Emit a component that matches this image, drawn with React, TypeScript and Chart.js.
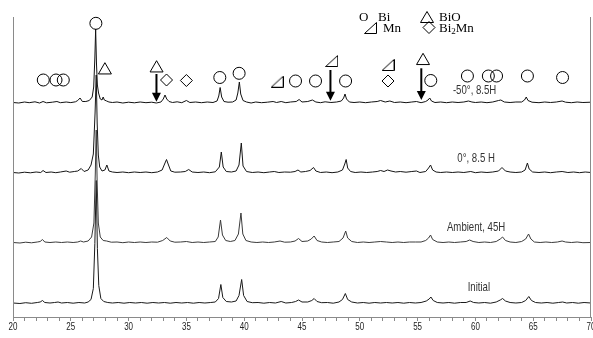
import React, { useEffect, useRef } from "react";
import { Chart, registerables } from "chart.js";

Chart.register(...registerables);

// ---------- data (2θ in degrees, intensity above each trace's own baseline) ----------
const traceNames = ["-50°, 8.5H", "0°, 8.5 H", "Ambient, 45H", "Initial"];
const traceOffsets = [214, 144, 74, 13.5];
const traceColors = ["#111111", "#151515", "#3a3a3a", "#1a1a1a"];

const traceMinus50: number[][] = [
  [20,0.5],[20.5,0],[21,1],[21.4,0.3],[21.9,1.2],[22.3,0],[22.6,1.5],[22.9,0.2],[23.4,0.8],[23.8,1.5],[24.1,0.3],[24.6,1],[25,0.4],[25.4,1.2],[25.6,2.5],[25.8,5],[26.0,1.5],[26.3,1.5],[26.6,2.5],[26.85,6],[26.98,16],[27.08,45],[27.15,74],[27.22,40],[27.3,18],[27.4,10],[27.55,4],[27.7,3],[27.8,6],[27.9,3],[28.1,2],[28.3,1],[28.6,0.5],[29,1],[29.5,0],[30,0.8],[30.5,0.2],[31,1],[31.5,0.3],[32,0.8],[32.4,0],[32.8,1],[33.0,4],[33.15,8],[33.3,4],[33.5,1.5],[33.8,0.5],[34.2,1.2],[34.6,0.3],[35.0,2.5],[35.3,0.5],[35.8,1],[36.3,0.3],[36.8,1],[37.3,0.5],[37.65,2],[37.8,7],[37.92,15.5],[38.05,6],[38.25,1.5],[38.6,0.8],[39.0,1],[39.3,3],[39.45,10],[39.58,21],[39.7,9],[39.9,2.5],[40.2,1],[40.6,0],[41,1],[41.5,0.3],[42,0.8],[42.5,1.5],[42.8,0.5],[43.2,1.5],[43.6,0.3],[44,1],[44.5,1.5],[44.75,3.5],[45,1],[45.5,1.5],[45.9,3],[46.2,1],[46.6,0.3],[47,1.2],[47.5,0.5],[48,1],[48.4,2],[48.6,5],[48.72,9],[48.85,4],[49.1,1],[49.5,0.5],[50,1],[50.5,0.3],[51,1],[51.5,1.5],[51.8,2.5],[52.2,1],[52.6,2],[53,0.5],[53.5,1],[54,0.3],[54.5,1],[54.9,1.5],[55.3,0.3],[55.7,1.5],[55.9,3],[56.05,5],[56.2,2],[56.5,0.5],[57,1],[57.5,0.3],[58,1],[58.5,0.5],[59,1],[59.4,2],[59.7,1],[60,0.5],[60.5,1],[61,0.3],[61.5,1],[62,2.5],[62.2,3],[62.5,1],[63,0.5],[63.5,1],[64,1],[64.25,3],[64.4,6],[64.55,2.5],[64.9,0.8],[65.5,0.3],[66,1],[66.5,0.5],[67,1],[67.5,2],[67.8,0.8],[68.3,0.3],[68.8,1],[69.3,0.5],[70,0.8]
];

const trace0: number[][] = [
  [20,0.5],[20.5,0],[21,0.8],[21.5,0.2],[22,1],[22.4,0.5],[22.6,2.5],[22.85,0.5],[23.3,1],[23.7,0.3],[24.1,1],[24.6,2],[24.9,0.8],[25.3,1.5],[25.6,2],[25.9,4.5],[26.15,1.5],[26.5,3],[26.75,8],[26.95,19],[27.1,60],[27.2,98],[27.28,50],[27.38,18],[27.5,6],[27.7,2],[27.95,3],[28.12,8],[28.3,2],[28.6,1],[29,0.5],[29.5,1],[30,0.3],[30.5,1],[31,0.5],[31.5,1],[32,0.3],[32.5,1],[32.9,3],[33.15,10],[33.28,13.5],[33.42,9],[33.65,2],[34,0.8],[34.5,1],[34.9,1.5],[35.2,3.5],[35.5,1],[36,0.5],[36.5,1],[37,0.3],[37.5,1.2],[37.85,6],[38.02,21],[38.18,6],[38.45,1.5],[38.9,1],[39.3,2],[39.55,8],[39.75,30],[39.9,7],[40.2,1.5],[40.7,0.5],[41.2,1],[41.7,0.3],[42.2,1],[42.6,1.5],[43,0.5],[43.5,1],[44,0.8],[44.4,1.5],[44.65,3],[44.9,1],[45.3,1.5],[45.7,2.5],[46.0,5.5],[46.2,2],[46.6,0.5],[47.1,1],[47.6,0.3],[48.1,1],[48.5,3],[48.7,9],[48.82,13.5],[48.95,5],[49.2,1.5],[49.6,0.5],[50.1,1],[50.6,0.5],[51.1,1],[51.5,1.5],[51.8,2.5],[52.1,1.5],[52.4,3],[52.7,2],[53.1,1],[53.5,1.5],[54,0.8],[54.5,1.5],[54.9,2],[55.2,0.5],[55.7,1.5],[55.95,5],[56.12,8],[56.3,3],[56.6,1],[57,0.5],[57.5,1],[58,0.5],[58.5,1],[59,0.5],[59.6,1.5],[60,0.3],[60.5,1],[61,0.5],[61.5,1],[62,2],[62.3,5.5],[62.6,2],[63,1],[63.5,0.5],[64,1],[64.3,3],[64.5,10],[64.65,4],[64.95,1],[65.5,0.5],[66,1],[66.5,0.3],[67,1],[67.5,1.5],[68,0.5],[68.5,1],[69,0.3],[69.5,1],[70,0.5]
];

const traceAmbient: number[][] = [
  [20,0.5],[20.6,0],[21.1,0.8],[21.6,0.2],[22.1,1],[22.35,1.5],[22.55,3.5],[22.75,1],[23.2,0.5],[23.7,1],[24.2,0.5],[24.7,1],[25.2,0.5],[25.6,1],[25.85,2],[26.1,1],[26.5,2],[26.8,6],[27.0,20],[27.12,70],[27.2,113],[27.28,60],[27.38,20],[27.55,6],[27.8,2.5],[28.1,2],[28.5,0.8],[29,1],[29.5,0.3],[30,1],[30.5,0.5],[31,1],[31.5,0.5],[32,1],[32.5,0.8],[32.95,2.5],[33.3,5.5],[33.6,2],[34,0.8],[34.5,1],[35,1.5],[35.5,0.5],[36,1],[36.5,0.5],[37,1],[37.5,1.5],[37.75,6],[37.95,23],[38.12,8],[38.4,2.5],[38.8,1.5],[39.2,2.5],[39.5,9],[39.72,30],[39.88,9],[40.15,2.5],[40.6,1],[41.1,0.5],[41.6,1],[42.1,0.5],[42.6,1],[43.1,2],[43.5,0.8],[44,1],[44.4,2],[44.7,4.5],[45,1.5],[45.5,2],[45.8,4],[46.05,7],[46.3,2.5],[46.7,1],[47.2,0.5],[47.7,1],[48.2,1.5],[48.55,5],[48.78,12],[48.95,5],[49.3,1.5],[49.8,0.5],[50.3,1],[50.8,0.5],[51.3,1],[51.8,1.5],[52.3,1],[52.8,0.5],[53.3,1],[53.8,0.5],[54.3,1],[54.8,1],[55.3,1],[55.7,2.5],[55.95,5],[56.12,8],[56.3,3.5],[56.7,1],[57.2,0.5],[57.7,1],[58.2,0.5],[58.7,1],[59.2,1.5],[59.5,3],[59.8,1.5],[60.3,0.5],[60.8,1],[61.3,0.5],[61.8,1.5],[62.15,4],[62.35,6],[62.6,2.5],[63,1],[63.5,0.5],[64,1.5],[64.35,4],[64.6,9],[64.8,4],[65.1,1],[65.6,0.5],[66.1,1],[66.6,0.5],[67.1,1],[67.5,2],[67.8,1],[68.3,0.5],[68.8,1],[69.3,0.3],[70,0.5]
];

const traceInitial: number[][] = [
  [20,0.5],[20.6,0],[21.1,0.8],[21.6,0.2],[22.1,1],[22.35,1.5],[22.55,3],[22.75,1],[23.2,0.5],[23.6,1],[23.9,1.5],[24.2,0.5],[24.7,1],[25.2,0.3],[25.7,1],[26.2,0.5],[26.5,1.5],[26.75,4],[26.95,15],[27.08,60],[27.2,123],[27.3,55],[27.42,18],[27.6,5],[27.85,2],[28.2,1],[28.6,0.5],[29.1,1],[29.6,0.3],[30.1,1],[30.6,0.5],[31.1,1],[31.6,0.3],[32.1,1],[32.6,0.5],[33.1,1],[33.6,0.3],[34.1,1],[34.6,0.5],[35.1,1],[35.6,0.3],[36.1,1],[36.6,0.5],[37.1,1],[37.5,1.5],[37.78,5],[37.98,19],[38.15,6],[38.45,2],[38.9,1.5],[39.3,2.5],[39.55,8],[39.78,24],[39.95,8],[40.25,2],[40.7,0.8],[41.2,1],[41.7,0.3],[42.2,1],[42.7,0.5],[43.2,2],[43.6,0.5],[44.1,1],[44.45,2],[44.7,3.5],[45,1.5],[45.5,1.5],[45.85,3],[46.05,5],[46.3,2],[46.7,0.8],[47.2,1],[47.7,0.3],[48.2,1.5],[48.5,4],[48.75,10],[48.95,4],[49.3,1.5],[49.8,0.5],[50.3,1],[50.8,0.3],[51.3,1],[51.8,0.5],[52.3,1],[52.8,0.5],[53.3,1],[53.8,0.3],[54.3,1],[54.8,0.5],[55.3,1],[55.75,2.5],[56.0,4.5],[56.15,6.5],[56.35,3],[56.7,1],[57.2,0.5],[57.7,1],[58.2,0.3],[58.7,1],[59.2,1],[59.55,2.5],[59.85,1],[60.3,0.5],[60.8,1],[61.3,0.3],[61.8,1.5],[62.15,3.5],[62.35,5],[62.6,2.5],[63,1],[63.5,0.5],[64,1],[64.35,3],[64.62,7],[64.85,3],[65.2,1],[65.7,0.5],[66.2,1],[66.7,0.3],[67.2,1],[67.55,1.5],[67.9,0.5],[68.4,1],[68.9,0.3],[69.4,1],[70,0.5]
];

const traces = [traceMinus50, trace0, traceAmbient, traceInitial];

// phase markers (x = 2θ, y = chart value)
const biCircles: number[][] = [
  [22.62,237],[23.72,237],[24.35,237],[27.17,293.7],[37.89,239.5],[39.56,243.7],[44.44,236],[46.17,236],[48.77,236],[56.14,236.5],[59.31,241],[61.12,241],[61.83,241],[64.5,241],[67.54,239.5]
];
const bioTriangles: number[][] = [[27.95,246.8],[32.42,248.8],[55.47,256.2]];
const mnTriangles: number[][] = [[42.85,235.3],[47.57,256],[52.44,252]];
const bi2mnDiamonds: number[][] = [[33.28,237],[35.0,236.5],[52.44,236]];

// arrows: [x, top value, tip value]
const arrows: number[][] = [[32.41,243,215.3],[47.46,247,216.3],[55.32,248.7,217]];

// trace labels: [x, y]
const traceLabelPos: number[][] = [[59.93,227],[60.06,159],[60.06,90],[60.3,30]];

const xTickMin = 20;
const xTickMax = 70;
const xLabelStep = 5;

const SANS = '"Liberation Sans", Arial, sans-serif';
const SERIF = '"Liberation Serif", "Times New Roman", serif';

function makeRightTriangle(): HTMLCanvasElement {
  const c = document.createElement("canvas");
  c.width = 13;
  c.height = 12;
  const g = c.getContext("2d")!;
  g.strokeStyle = "#000";
  g.lineWidth = 1;
  g.beginPath();
  g.moveTo(0.5, 11.5);
  g.lineTo(12.5, 11.5);
  g.lineTo(12.5, 0.5);
  g.closePath();
  g.stroke();
  return c;
}

function narrowText(ctx: CanvasRenderingContext2D, text: string, x: number, y: number, sx: number) {
  ctx.save();
  ctx.translate(x, y);
  ctx.scale(sx, 1);
  ctx.fillText(text, 0, 0);
  ctx.restore();
}

const overlayPlugin = {
  id: "overlay",
  afterDatasetsDraw(chart: any) {
    const { ctx, chartArea, scales } = chart;
    const xs = scales.x;
    const ys = scales.y;
    ctx.save();
    // frame: left & right vertical lines
    ctx.strokeStyle = "#8a8a8a";
    ctx.lineWidth = 1;
    ctx.beginPath();
    ctx.moveTo(Math.round(chartArea.left) + 0.5, chartArea.top);
    ctx.lineTo(Math.round(chartArea.left) + 0.5, chartArea.bottom);
    ctx.moveTo(Math.round(chartArea.right) - 0.5, chartArea.top);
    ctx.lineTo(Math.round(chartArea.right) - 0.5, chartArea.bottom);
    ctx.stroke();

    // x tick labels (condensed)
    ctx.fillStyle = "#222";
    ctx.font = `10px ${SANS}`;
    ctx.textAlign = "center";
    ctx.textBaseline = "alphabetic";
    for (let v = xTickMin; v <= xTickMax; v += xLabelStep) {
      narrowText(ctx, String(v), xs.getPixelForValue(v), 329.5, 0.8);
    }

    // arrows
    ctx.strokeStyle = "#000";
    ctx.fillStyle = "#000";
    for (const [ax, top, tip] of arrows) {
      const px = xs.getPixelForValue(ax);
      const pt = ys.getPixelForValue(top);
      const pb = ys.getPixelForValue(tip);
      ctx.lineWidth = 2;
      ctx.beginPath();
      ctx.moveTo(px, pt);
      ctx.lineTo(px, pb - 7);
      ctx.stroke();
      ctx.beginPath();
      ctx.moveTo(px - 4.5, pb - 9);
      ctx.lineTo(px + 4.5, pb - 9);
      ctx.lineTo(px, pb);
      ctx.closePath();
      ctx.fill();
    }

    // trace labels
    ctx.font = `13px ${SANS}`;
    ctx.fillStyle = "#333";
    ctx.textAlign = "center";
    ctx.textBaseline = "middle";
    traceNames.forEach((n, i) => {
      const [lx, ly] = traceLabelPos[i];
      narrowText(ctx, n, xs.getPixelForValue(lx), ys.getPixelForValue(ly), 0.74);
    });

    // legend
    ctx.fillStyle = "#000";
    ctx.strokeStyle = "#000";
    ctx.lineWidth = 1;
    ctx.textAlign = "left";
    ctx.textBaseline = "middle";
    ctx.font = `13px ${SERIF}`;
    ctx.fillText("O", 359, 17.5);
    ctx.fillText("Bi", 378, 17.5);
    ctx.beginPath();
    ctx.moveTo(427, 11.5);
    ctx.lineTo(433.5, 22.5);
    ctx.lineTo(420.5, 22.5);
    ctx.closePath();
    ctx.stroke();
    ctx.fillText("BiO", 439, 17.5);
    ctx.beginPath();
    ctx.moveTo(364.5, 33.5);
    ctx.lineTo(376.5, 33.5);
    ctx.lineTo(376.5, 22.5);
    ctx.closePath();
    ctx.stroke();
    ctx.fillText("Mn", 383, 28.5);
    ctx.beginPath();
    ctx.moveTo(429, 21.5);
    ctx.lineTo(435, 27.5);
    ctx.lineTo(429, 33.5);
    ctx.lineTo(423, 27.5);
    ctx.closePath();
    ctx.stroke();
    let tx = 439;
    ctx.fillText("Bi", tx, 28.5);
    tx += ctx.measureText("Bi").width;
    ctx.font = `9px ${SERIF}`;
    ctx.fillText("2", tx, 31.5);
    tx += ctx.measureText("2").width;
    ctx.font = `13px ${SERIF}`;
    ctx.fillText("Mn", tx, 28.5);

    ctx.restore();
  },
};

export default function App() {
  const ref = useRef<HTMLCanvasElement | null>(null);

  useEffect(() => {
    if (!ref.current) return;
    const rightTri = makeRightTriangle();
    const toXY = (arr: number[][], off = 0) => arr.map(([x, y]) => ({ x, y: y + off }));

    const traceSets = traces.map((t, i) => ({
      label: traceNames[i],
      data: toXY(t, traceOffsets[i]),
      showLine: true,
      borderColor: traceColors[i],
      borderWidth: 1,
      pointRadius: 0,
      tension: 0,
      order: 2,
    }));

    const markerBase = {
      showLine: false,
      borderColor: "#000",
      backgroundColor: "rgba(0,0,0,0)",
      borderWidth: 1,
      order: 1,
      clip: false,
    };

    const chart = new Chart(ref.current, {
      type: "scatter",
      data: {
        datasets: [
          ...traceSets,
          { ...markerBase, label: "Bi", data: toXY(biCircles), pointStyle: "circle", pointRadius: 6 },
          { ...markerBase, label: "BiO", data: toXY(bioTriangles), pointStyle: "triangle", pointRadius: 7.5 },
          { ...markerBase, label: "Mn", data: toXY(mnTriangles), pointStyle: rightTri, pointRadius: 6 },
          { ...markerBase, label: "Bi2Mn", data: toXY(bi2mnDiamonds), pointStyle: "rectRot", pointRadius: 6 },
        ] as any,
      },
      options: {
        animation: false,
        responsive: false,
        devicePixelRatio: 1,
        layout: { autoPadding: false, padding: { left: 13, right: 2, top: 17, bottom: 0 } },
        plugins: {
          legend: { display: false },
          tooltip: { enabled: false },
        },
        scales: {
          x: {
            type: "linear",
            min: xTickMin,
            max: xTickMax,
            afterFit(s: any) {
              s.paddingLeft = 0;
              s.paddingRight = 0;
              s.height = 21;
            },
            border: { display: true, color: "#8a8a8a", width: 1 },
            grid: { display: true, drawOnChartArea: false, drawTicks: true, tickLength: 4, color: "#8a8a8a" },
            ticks: {
              stepSize: 1,
              autoSkip: false,
              maxRotation: 0,
              padding: 1,
              color: "rgba(0,0,0,0)",
              font: { family: SANS, size: 10 },
              callback: (v: any) => (Number(v) % 5 === 0 ? String(v) : ""),
            },
          },
          y: { type: "linear", min: 0, max: 300, display: false },
        },
      } as any,
      plugins: [overlayPlugin],
    });
    return () => chart.destroy();
  }, []);

  return (
    <div style={{ position: "fixed", left: 0, top: 0, width: 593, height: 338, background: "#fff" }}>
      <canvas ref={ref} width={593} height={338} style={{ width: 593, height: 338, display: "block" }} />
    </div>
  );
}
